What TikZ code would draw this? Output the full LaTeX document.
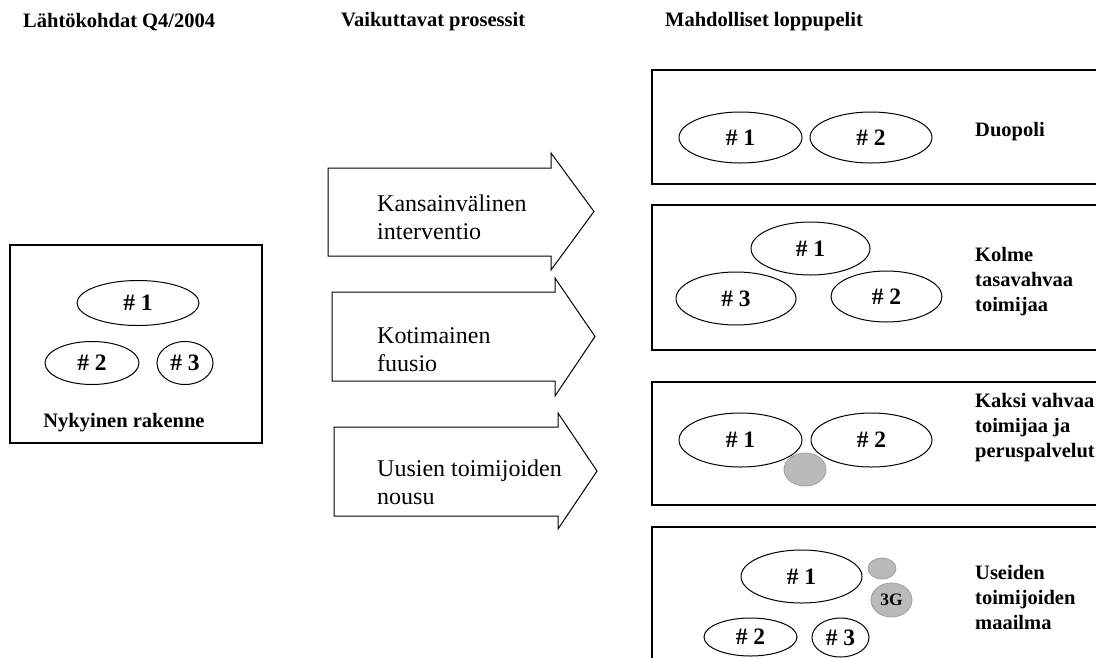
\documentclass[tikz,border=0pt]{standalone}
\usepackage{fontspec}
\setmainfont{Liberation Serif}
\usetikzlibrary{shapes.geometric}
\begin{document}
\begin{tikzpicture}[x=1pt,y=-1pt,
  frame/.style={draw, line width=1.1pt, inner sep=0pt},
  firm/.style={draw, ellipse, line width=1pt, inner sep=0pt,
    font=\fontsize{23.5}{26}\selectfont\bfseries},
  minor/.style={draw=black!38, fill=black!27, ellipse, line width=0.8pt, inner sep=0pt,
    font=\fontsize{17.5}{20}\selectfont\bfseries},
  heading/.style={anchor=west, inner sep=0pt, font=\fontsize{20.5}{25}\selectfont\bfseries},
  caption/.style={anchor=west, align=left, inner sep=0pt,
    font=\fontsize{20.5}{25}\selectfont\bfseries},
  flow/.style={draw, line width=1pt, line join=miter},
  flowtext/.style={anchor=west, align=left, inner sep=0pt,
    font=\fontsize{24}{28}\selectfont}]
\useasboundingbox (0,0) rectangle (1096,657);
\clip (0,0) rectangle (1096,657);

% column headings
\node[heading] (h1) at (23,22) {Lähtökohdat Q4/2004};
\node[heading] (h2) at (341,22) {Vaikuttavat prosessit};
\node[heading] (h3) at (665,22) {Mahdolliset loppupelit};

% present structure
\node[frame, minimum width=252pt, minimum height=198pt] (now) at (136,344) {};
\node[firm, minimum width=122pt, minimum height=45pt] (n1) at (138,303) {\# 1};
\node[firm, minimum width=94pt, minimum height=43pt] (n2) at (92,363) {\# 2};
\node[firm, minimum width=56pt, minimum height=43pt] (n3) at (185,363) {\# 3};
\node[caption, anchor=center] (nowcap) at (124,423) {Nykyinen rakenne};

% driving processes
\draw[flow] (328,168) -- (551,168) -- (551,153) -- (594,211.5) -- (551,270) -- (551,256) -- (328,256) -- cycle;
\node[flowtext] (p1) at (377,217) {Kansainvälinen\\interventio};
\draw[flow] (332,292) -- (555,292) -- (555,278) -- (595,336.5) -- (555,396) -- (555,381) -- (332,381) -- cycle;
\node[flowtext] (p2) at (377,350) {Kotimainen\\fuusio};
\draw[flow] (334,427) -- (558,427) -- (558,413) -- (597,471) -- (558,529) -- (558,516) -- (334,516) -- cycle;
\node[flowtext] (p3) at (377,482) {Uusien toimijoiden\\nousu};

% end games
\draw[frame] (1110,70) -- (652,70) -- (652,184) -- (1110,184);
\node[firm, minimum width=123pt, minimum height=51pt] (d1) at (740.5,137.5) {\# 1};
\node[firm, minimum width=122pt, minimum height=51pt] (d2) at (871,137.5) {\# 2};
\node[caption] (dcap) at (975,132) {Duopoli};

\draw[frame] (1110,205) -- (652,205) -- (652,350) -- (1110,350);
\node[firm, minimum width=119pt, minimum height=53pt] (k1) at (810.5,248.5) {\# 1};
\node[firm, minimum width=120pt, minimum height=53pt] (k3) at (736,298.5) {\# 3};
\node[firm, minimum width=111pt, minimum height=51pt] (k2) at (886.5,296.5) {\# 2};
\node[caption] (kcap) at (975,282) {Kolme\\tasavahvaa\\toimijaa};

\draw[frame] (1110,382) -- (652,382) -- (652,505) -- (1110,505);
\node[minor, minimum width=42pt, minimum height=33pt] (v0) at (805,469.5) {};
\node[firm, minimum width=123pt, minimum height=54pt] (v1) at (740.5,440) {\# 1};
\node[firm, minimum width=121pt, minimum height=54pt] (v2) at (871.5,440) {\# 2};
\node[caption] (vcap) at (975,428) {Kaksi vahvaa\\toimijaa ja\\peruspalvelut};

\draw[frame] (1110,527) -- (652,527) -- (652,670);
\node[firm, minimum width=121pt, minimum height=53pt] (u1) at (801.5,576.5) {\# 1};
\node[minor, minimum width=28pt, minimum height=21pt] (u0) at (882,568.5) {};
\node[minor, minimum width=41pt, minimum height=34pt] (u3g) at (891.5,600) {3G};
\node[firm, minimum width=93pt, minimum height=38pt] (u2) at (750.5,637) {\# 2};
\node[firm, minimum width=57pt, minimum height=39pt] (u3) at (840.5,637.5) {\# 3};
\node[caption] (ucap) at (975,597) {Useiden\\toimijoiden\\maailma};
\end{tikzpicture}
\end{document}
